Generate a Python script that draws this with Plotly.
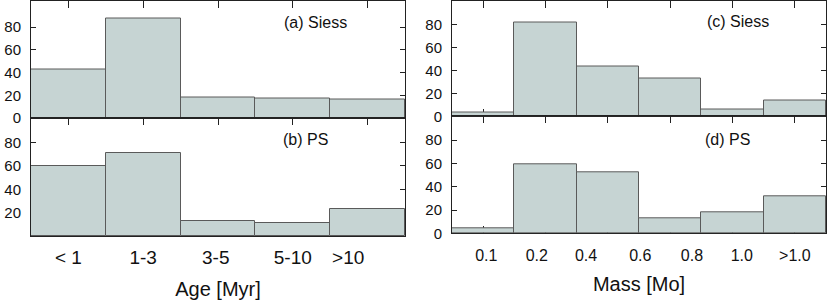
import plotly.graph_objects as go

# ---- data ----
age_labels = ["< 1", "1-3", "3-5", "5-10", ">10"]
siess_age = [43, 88, 18, 17, 16]
ps_age = [60, 71, 13, 11, 23]

mass_labels = ["0.1", "0.2", "0.4", "0.6", "0.8", "1.0", ">1.0"]
siess_mass = [3, 82, 43, 33, 6, 14]
ps_mass = [4, 59, 52, 13, 18, 32]

panel_titles = ["(a) Siess", "(b) PS", "(c) Siess", "(d) PS"]

# label placement along the category axis (layout only)
age_label_pos = [0.0, 1.0, 1.97, 3.0, 3.74]
mass_label_pos = [0.05, 0.86, 1.65, 2.52, 3.35, 4.15, 5.0]

W, H = 831, 302
FILL = "#c6d4d3"
EDGE = "#5a5a5a"
AX = "#222222"
FONT = "Liberation Sans, Arial, sans-serif"


def px_x(a, b):
    return [a / W, b / W]


def px_y(top, bottom):
    return [1 - bottom / H, 1 - top / H]


fig = go.Figure()

series = [
    (siess_age, "x", "y"),
    (ps_age, "x2", "y2"),
    (siess_mass, "x3", "y3"),
    (ps_mass, "x4", "y4"),
]
for vals, xa, ya in series:
    fig.add_trace(go.Bar(
        x=list(range(len(vals))), y=vals, xaxis=xa, yaxis=ya,
        width=1.0, marker=dict(color=FILL, line=dict(color=EDGE, width=1)),
        showlegend=False, hoverinfo="skip"))

# invisible traces for label axes
fig.add_trace(go.Scatter(x=[0], y=[0], xaxis="x5", yaxis="y2", mode="markers",
                         marker=dict(opacity=0), showlegend=False, hoverinfo="skip"))
fig.add_trace(go.Scatter(x=[0], y=[0], xaxis="x6", yaxis="y4", mode="markers",
                         marker=dict(opacity=0), showlegend=False, hoverinfo="skip"))

L = px_x(31, 405)
R = px_x(452, 826)
LT = px_y(0.5, 118)
LB = px_y(118, 236)
RT = px_y(0.5, 116.3)
RB = px_y(116.3, 233.3)

nA = len(siess_age)
nM = len(siess_mass)

common_x = dict(showline=True, linecolor=AX, linewidth=1, mirror="ticks",
                ticks="inside", ticklen=7, tickcolor=AX, showticklabels=False,
                showgrid=False, zeroline=False, layer="below traces", automargin=False)
common_y = dict(showline=True, linecolor=AX, linewidth=1, mirror="ticks",
                ticks="inside", ticklen=5, tickcolor=AX, showgrid=False,
                zeroline=False, tickfont=dict(family=FONT, size=15, color="#111"),
                ticklabelstandoff=6, layer="below traces", automargin=False)

fig.update_layout(
    width=W, height=H, margin=dict(l=0, r=0, t=0, b=0, autoexpand=False),
    paper_bgcolor="white", plot_bgcolor="white", bargap=0,
    font=dict(family=FONT, color="#111"),
    xaxis=dict(domain=L, anchor="y", range=[-0.5, nA - 0.5],
               tickvals=list(range(nA)), **common_x),
    xaxis2=dict(domain=L, anchor="y2", range=[-0.5, nA - 0.5],
                tickvals=list(range(nA)), **common_x),
    xaxis3=dict(domain=R, anchor="y3", range=[-0.5, nM - 0.5],
                tickvals=list(range(nM)), **common_x),
    xaxis4=dict(domain=R, anchor="y4", range=[-0.5, nM - 0.5],
                tickvals=list(range(nM)), **common_x),
    xaxis5=dict(overlaying="x2", anchor="y2", range=[-0.5, nA - 0.5],
                tickvals=age_label_pos, ticktext=age_labels, ticks="",
                showline=False, showgrid=False, zeroline=False, automargin=False,
                tickfont=dict(family=FONT, size=19, color="#111"),
                ticklabelstandoff=8,
                title=dict(text="Age [Myr]", font=dict(family=FONT, size=20, color="#111"),
                           standoff=14)),
    xaxis6=dict(overlaying="x4", anchor="y4", range=[-0.5, nM - 0.5],
                tickvals=mass_label_pos, ticktext=mass_labels, ticks="",
                showline=False, showgrid=False, zeroline=False, automargin=False,
                tickfont=dict(family=FONT, size=16, color="#111"),
                ticklabelstandoff=11,
                title=dict(text="Mass [Mo]", font=dict(family=FONT, size=20, color="#111"),
                           standoff=13)),
    yaxis=dict(domain=LT, anchor="x", range=[0, 103.5],
               tickvals=[0, 20, 40, 60, 80], **common_y),
    yaxis2=dict(domain=LB, anchor="x2", range=[0, 101],
                tickvals=[20, 40, 60, 80], **common_y),
    yaxis3=dict(domain=RT, anchor="x3", range=[0, 100.7],
                tickvals=[0, 20, 40, 60, 80], **common_y),
    yaxis4=dict(domain=RB, anchor="x4", range=[0, 100.5],
                tickvals=[0, 20, 40, 60, 80], **common_y),
)

ann_pos = [(315, 22.7), (305, 139.3), (738, 21.7), (727, 139)]
for text, (px, py) in zip(panel_titles, ann_pos):
    fig.add_annotation(text=text, xref="paper", yref="paper",
                       x=px / W, y=1 - py / H,
                       xanchor="center", yanchor="middle", showarrow=False,
                       font=dict(family=FONT, size=16, color="#111"))

# remove the browser's default 8px body margin so the figure sits at the page origin
fig.write_html("out.html", config={"displayModeBar": False},
               post_script="document.body.style.margin='0px';document.body.style.overflow='hidden';")
